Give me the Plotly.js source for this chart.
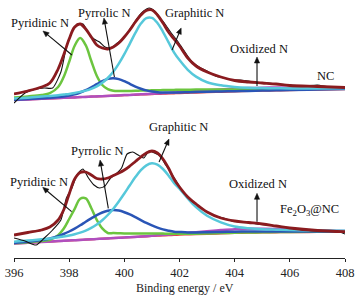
<!DOCTYPE html>
<html><head><meta charset="utf-8">
<script src="https://cdn.plot.ly/plotly-3.0.1.min.js"></script>
<style>html,body{margin:0;padding:0;background:#fff}#chart{width:362px;height:299px}</style>
</head><body><div id="chart"></div>
<script>
// Binding energy grid (eV)
const energy = [396.0,396.5,397.0,397.3,397.6,397.8,398.0,398.2,398.4,398.6,398.8,399.0,399.2,399.4,399.6,399.8,400.0,400.2,400.4,400.6,400.8,401.0,401.2,401.4,401.6,401.8,402.0,402.3,402.6,403.0,403.5,404.0,404.5,405.0,405.5,406.0,407.0,408.0];

// ---- NC (upper, offset spectrum) ----
const ncBackground = [158.0,158.6,159.2,159.6,159.9,160.2,160.4,160.6,160.9,161.1,161.4,161.6,161.8,162.1,162.3,162.6,162.8,163.0,163.2,163.5,163.7,163.9,164.1,164.3,164.5,164.7,164.9,165.2,165.4,165.8,166.2,166.6,167.0,167.3,167.6,167.9,168.4,168.8];
const ncOxidized = [158.0,158.6,159.2,159.6,159.9,160.2,160.4,160.6,160.9,161.1,161.4,161.6,161.8,162.1,162.3,162.6,162.9,163.1,163.4,163.7,164.0,164.2,164.5,164.8,165.1,165.5,165.9,166.5,167.0,167.8,168.6,169.4,170.0,170.3,170.4,170.3,169.9,169.7];
const ncPyridinic = [160.5,161.6,163.0,164.8,171.0,181.0,196.2,212.3,220.0,212.8,197.2,182.3,173.0,168.8,167.3,167.0,167.0,167.1,167.2,167.4,167.5,167.7,167.8,167.9,168.0,168.1,168.2,168.3,168.4,168.5,168.6,168.6,168.7,168.8,168.9,169.0,169.2,169.3];
const ncPyrrolic = [158.3,159.0,159.7,160.2,160.9,161.5,162.4,163.6,165.5,167.8,170.7,173.8,176.8,179.1,179.8,178.9,176.8,174.1,171.4,169.3,167.6,166.4,165.8,165.5,165.4,165.4,165.5,165.7,165.9,166.2,166.5,166.8,167.1,167.4,167.7,168.0,168.5,168.9];
const ncGraphitic = [159.4,160.3,161.4,162.1,162.8,163.5,164.1,165.0,166.1,167.4,169.2,171.7,175.2,180.0,186.2,194.3,203.8,214.4,225.1,234.4,239.9,240.1,235.0,226.2,215.9,205.7,197.9,188.2,181.4,175.8,172.7,171.1,170.3,169.9,169.7,169.6,169.6,169.7];
const ncEnvelope = [164,167,171,175,189,203,219,231,234,229,221,213,210,209,211,215,221,228,236,243,247.5,248,243,235,226,219,212,200,192,186,181,177.5,176,175,174,172.5,171.5,170.5];

// ---- Fe2O3@NC (lower spectrum) ----
const feBackground = [14.5,15.2,16.0,16.4,16.9,17.2,17.5,17.8,18.1,18.4,18.7,19.0,19.3,19.6,19.9,20.2,20.5,20.8,21.1,21.4,21.7,22.0,22.3,22.5,22.8,23.0,23.3,23.6,23.8,24.2,24.6,25.0,25.3,25.5,25.7,25.8,26.0,26.2];
const feOxidized = [14.5,15.2,16.0,16.4,16.9,17.2,17.5,17.8,18.1,18.4,18.7,19.0,19.3,19.6,19.9,20.2,20.5,20.8,21.1,21.4,21.8,22.3,22.7,23.1,23.5,23.9,24.5,25.2,25.8,26.8,27.9,28.8,29.3,29.3,29.0,28.5,27.5,27.0];
const fePyridinic = [14.9,15.8,17.1,18.3,22.9,29.2,39.0,49.1,59.3,59.6,50.0,38.1,29.6,25.0,24.9,24.7,24.5,24.5,24.6,24.6,24.6,24.5,24.5,24.4,24.3,24.3,24.3,24.3,24.3,24.6,24.9,25.3,25.5,25.7,25.9,26.0,26.2,26.4];
const fePyrrolic = [15.1,16.2,18.0,19.5,21.9,24.0,26.5,29.4,32.7,36.2,39.6,42.9,45.5,47.2,47.9,47.4,45.8,43.6,40.8,37.9,35.1,32.6,30.4,28.6,27.3,26.3,26.0,25.6,25.5,25.7,26.0,26.3,26.5,26.6,26.6,26.6,26.5,26.4];
const feGraphitic = [16.3,17.4,18.7,19.5,20.7,21.5,22.5,23.8,25.4,27.4,30.1,33.5,37.8,43.0,49.3,56.6,64.5,72.8,80.9,87.9,92.7,94.7,93.3,89.0,82.6,75.0,69.3,59.6,50.8,42.2,35.6,31.5,29.8,28.8,28.3,27.9,27.4,27.2];
const feEnvelope = [23,25.5,28,31,38,48,64,79,85.5,86,83,79.5,79,80,82.5,85,88,92,96.5,101,105,107,105,99,90,79,71,61,54,46,40,37,35.5,34,32,30,27.5,26.3];

// ---- measured (raw) spectra ----
const rawEnergy = [396.0,396.4,396.8,397.1,397.4,397.7,397.9,398.1,398.3,398.5,398.7,398.9,399.1,399.3,399.5,399.7,399.9,400.1,400.3,400.5,400.7,400.9,401.1,401.3,401.5,401.7,401.9,402.1,402.4,402.7,403.0,403.3,403.6,403.9,404.2,404.5,404.8,405.2,405.6,406.0,406.5,407.0,407.4,407.7,408.0];
const ncRaw = [155,165,169,170,170,186,211,226,234,234,225,219,216,211,210,214,218,225,233,241,247,250,247,240,233,225,218,210,198,191,187,182,180,178,178,177,175,175,174,173,172,173,171,171,170];
const feRaw = [20,17,13,20,28,38,60,70,84,89,80,73,70,72,80,84,90,104,106,103,100,107,105,102,93,85,76,67,58,52,46,42,40,37,36,36,34,33,32,30,28,27,27.5,27,24];

const tickValues = [396,398,400,402,404,406,408];

const C = {bg:'#e8413c', ox:'#b04fbf', pyd:'#6cc53f', pyr:'#2a55b6', gra:'#56c8da', env:'#8a1b1f', raw:'#111111'};

function line(x, y, color, width, smooth){
  return {x:x, y:y, type:'scatter', mode:'lines', hoverinfo:'skip', showlegend:false,
    line:{color:color, width:width, shape:'spline', smoothing:smooth===undefined?1:smooth}};
}
const traces = [];
[[ncBackground,ncOxidized,ncPyridinic,ncPyrrolic,ncGraphitic,ncRaw,ncEnvelope],
 [feBackground,feOxidized,fePyridinic,fePyrrolic,feGraphitic,feRaw,feEnvelope]].forEach(s=>{
  traces.push(line(energy, s[0], C.bg, 2.2));
  traces.push(line(energy, s[1], C.ox, 2.5));
  traces.push(line(energy, s[2], C.pyd, 2.5));
  traces.push(line(energy, s[3], C.pyr, 2.5));
  traces.push(line(energy, s[4], C.gra, 2.5));
  traces.push(line(rawEnergy, s[5], C.raw, 1.1, 0.6));
  traces.push(line(energy, s[6], C.env, 2.8));
});

const F = '"Liberation Serif", "Times New Roman", serif';
function label(x, y, text){
  return {x:x, y:y, xref:'x', yref:'y', text:text, showarrow:false,
    xanchor:'center', yanchor:'middle', font:{family:F, size:12.5, color:'#111'}};
}
// arrows drawn as shapes (shaft + filled head); head at (hx,hy), tail at (tx,ty)
const PX_PER_EV = 331/12, PX_PER_V = 1;
const shapes = [];
function arrow(hx, hy, tx, ty){
  const dx = (hx-tx)*PX_PER_EV, dy = (hy-ty)*PX_PER_V;
  const len = Math.hypot(dx, dy), ux = dx/len, uy = dy/len;
  const L = 6, W = 2.6;
  const bx = hx*PX_PER_EV - ux*L, by = hy*PX_PER_V - uy*L;
  const p1 = [(bx - uy*W)/PX_PER_EV, (by + ux*W)/PX_PER_V];
  const p2 = [(bx + uy*W)/PX_PER_EV, (by - ux*W)/PX_PER_V];
  shapes.push({type:'line', xref:'x', yref:'y', x0:tx, y0:ty, x1:(bx+ux*1)/PX_PER_EV, y1:(by+uy*1)/PX_PER_V,
    line:{color:'#111', width:1.1}});
  shapes.push({type:'path', xref:'x', yref:'y', path:`M${hx},${hy} L${p1[0]},${p1[1]} L${p2[0]},${p2[1]} Z`,
    fillcolor:'#111', line:{color:'#111', width:0.5}});
}
arrow(397.05, 227, 398.10, 203);
arrow(399.26, 240, 399.64, 181);
arrow(402.06, 230, 401.73, 208);
arrow(404.81, 201, 404.81, 172);
arrow(397.04, 70.7, 398.09, 46.3);
arrow(399.12, 98, 399.42, 49.7);
arrow(401.62, 119, 401.26, 96);
arrow(404.81, 64.7, 404.81, 36.3);

const annotations = [
  label(396.94, 235, 'Pyridinic N'),
  label(399.28, 245, 'Pyrrolic N'),
  label(402.53, 245, 'Graphitic N'),
  label(404.88, 209, 'Oxidized N'),
  label(407.29, 182, 'NC'),
  label(396.92, 76.3, 'Pyridinic N'),
  label(399.0, 107, 'Pyrrolic N'),
  label(401.98, 131, 'Graphitic N'),
  label(404.85, 74, 'Oxidized N'),
  label(406.7, 48, 'Fe<sub>2</sub>O<sub>3</sub>@NC'),
  {x:0.5167, y:-0.116, xref:'paper', yref:'paper', text:'Binding energy / eV', showarrow:false,
    xanchor:'center', yanchor:'middle', font:{family:F, size:12, color:'#222'}}
];

const layout = {
  width:362, height:299, margin:{l:14, r:17, t:0, b:41},
  paper_bgcolor:'#fff', plot_bgcolor:'#fff', showlegend:false,
  xaxis:{range:[396,408], tickvals:tickValues, ticktext:tickValues.map(String),
    showline:true, linecolor:'#222', linewidth:1, ticks:'outside', ticklen:3, tickcolor:'#222',
    showgrid:false, zeroline:false, tickfont:{family:F, size:12.5, color:'#222'}},
  yaxis:{range:[0,258], visible:false, showgrid:false, zeroline:false},
  annotations:annotations, shapes:shapes
};
Plotly.newPlot('chart', traces, layout, {displayModeBar:false, staticPlot:true});
</script></body></html>
